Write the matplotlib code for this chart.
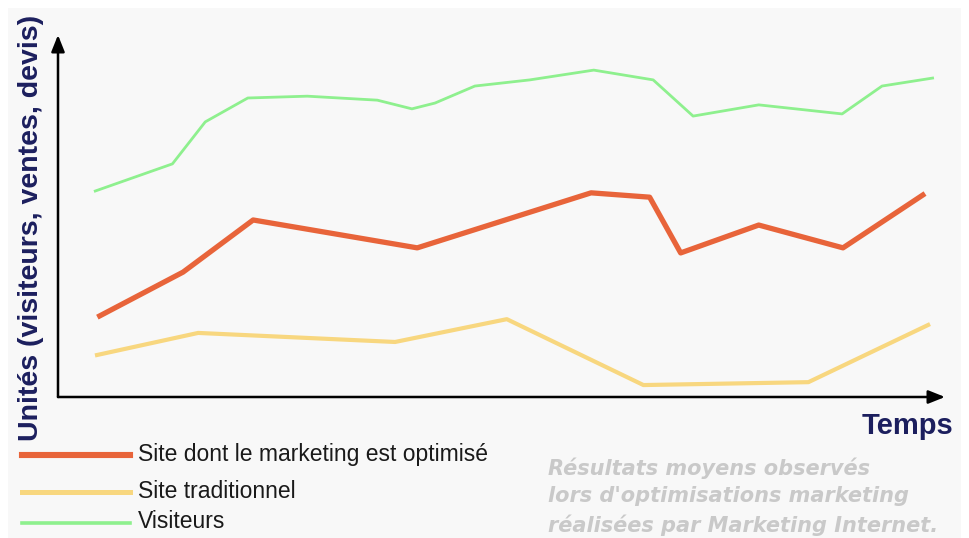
import matplotlib
matplotlib.use("Agg")
import matplotlib.pyplot as plt
from matplotlib.lines import Line2D

# Data (time on arbitrary 0-100 scale, units on arbitrary 0-100 scale)
visiteurs_t = [4.2, 12.9, 16.6, 21.4, 28.1, 36.0, 39.9, 42.5, 47.0, 53.2, 60.4, 67.1, 71.6, 79.0, 88.4, 92.9, 98.6]
visiteurs_v = [56.9, 64.4, 76.0, 82.6, 83.1, 82.0, 79.6, 81.2, 85.9, 87.6, 90.3, 87.6, 77.6, 80.7, 78.2, 85.9, 88.1]

optimise_t = [4.7, 14.1, 22.0, 40.5, 60.1, 66.7, 70.2, 79.0, 88.5, 97.5]
optimise_v = [22.4, 34.5, 48.9, 41.2, 56.4, 55.2, 39.8, 47.5, 41.2, 55.8]

traditionnel_t = [4.4, 15.8, 38.0, 50.6, 66.0, 84.6, 98.1]
traditionnel_v = [11.6, 17.7, 15.2, 21.5, 3.3, 4.1, 19.9]

labels = ["Site dont le marketing est optimisé", "Site traditionnel", "Visiteurs"]
colors = ["#e8643a", "#f8d77f", "#8ef08e"]
widths = [3.8, 3.0, 2.0]

W, H = 969, 538
fig = plt.figure(figsize=(W / 100, H / 100), dpi=100)
fig.patch.set_facecolor("white")

# light grey panel
bg = fig.add_axes([8 / W, 0, 1 - 16 / W, 1 - 8 / H])
bg.set_facecolor("#f8f8f8")
bg.set_xticks([]); bg.set_yticks([])
for s in bg.spines.values():
    s.set_visible(False)
bg.set_zorder(0)

ax = fig.add_axes([58 / W, 1 - 397 / H, (945 - 58) / W, (397 - 35) / H])
ax.set_zorder(1)
ax.patch.set_alpha(0)
ax.set_xlim(0, 100)
ax.set_ylim(0, 100)
ax.set_xticks([]); ax.set_yticks([])
for s in ax.spines.values():
    s.set_visible(False)

ax.plot(visiteurs_t, visiteurs_v, color=colors[2], lw=widths[2], solid_joinstyle="round", zorder=3)
ax.plot(traditionnel_t, traditionnel_v, color=colors[1], lw=widths[1], solid_joinstyle="round", zorder=3)
ax.plot(optimise_t, optimise_v, color=colors[0], lw=widths[0], solid_joinstyle="round", zorder=3)

arrow = dict(arrowstyle="-|>,head_length=1.0,head_width=0.4", color="black", lw=1.8,
             shrinkA=0, shrinkB=0)
ax.annotate("", xy=(0, 1), xytext=(0, 0), xycoords="axes fraction", arrowprops=arrow, annotation_clip=False)
ax.annotate("", xy=(1, 0), xytext=(0, 0), xycoords="axes fraction", arrowprops=arrow, annotation_clip=False)

navy = "#1c1f5e"
fig.text(31 / W, 1 - 228 / H, "Unités (visiteurs, ventes, devis)", rotation=90,
         ha="center", va="center", fontsize=20.5, fontweight="bold", color=navy,
         family="Liberation Sans")
fig.text(907 / W, 1 - 426 / H, "Temps", ha="center", va="center", fontsize=21,
         fontweight="bold", color=navy, family="Liberation Sans")

# legend
leg_y = [455, 492, 523]
for lab, c, lw, y in zip(labels, colors, widths, leg_y):
    fig.add_artist(Line2D([22 / W, 130 / W], [1 - y / H, 1 - y / H], color=c,
                          lw=lw + 0.6, transform=fig.transFigure))
    fig.text(138 / W, 1 - (y - 1) / H, lab, ha="left", va="center", fontsize=16.5,
             color="#1a1a1a", family="Liberation Sans")

note = ["Résultats moyens observés", "lors d'optimisations marketing",
        "réalisées par Marketing Internet."]
for i, line in enumerate(note):
    fig.text(548 / W, 1 - (468 + 28.5 * i) / H, line, ha="left", va="center",
             fontsize=15, fontweight="bold", style="italic", color="#c9c9c9",
             family="DejaVu Sans")

fig.savefig("out.png", dpi=100)
